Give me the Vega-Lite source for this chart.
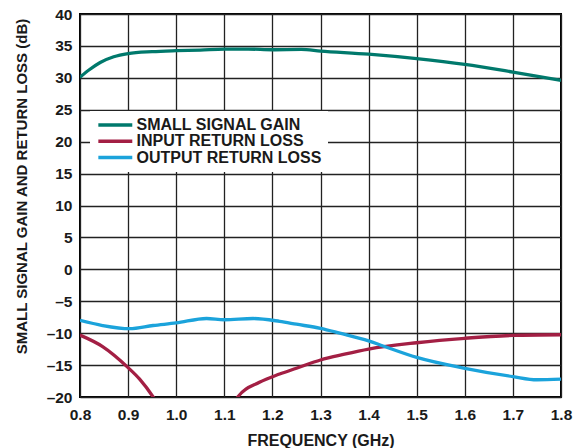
{
  "$schema": "https://vega.github.io/schema/vega-lite/v6.json",
  "width": 481,
  "height": 383,
  "autosize": {"type": "none"},
  "padding": {"left": 80, "top": 14, "right": 12, "bottom": 51},
  "background": "white",
  "config": {
    "view": {"stroke": "#000000", "strokeWidth": 2},
    "font": "Liberation Sans"
  },
  "data": {
    "values": [
      {"f": 0.8, "v": 30.1, "s": "SMALL SIGNAL GAIN"},
      {"f": 0.82, "v": 31.3, "s": "SMALL SIGNAL GAIN"},
      {"f": 0.842, "v": 32.4, "s": "SMALL SIGNAL GAIN"},
      {"f": 0.87, "v": 33.3, "s": "SMALL SIGNAL GAIN"},
      {"f": 0.9, "v": 33.8, "s": "SMALL SIGNAL GAIN"},
      {"f": 0.95, "v": 34.1, "s": "SMALL SIGNAL GAIN"},
      {"f": 1.0, "v": 34.25, "s": "SMALL SIGNAL GAIN"},
      {"f": 1.05, "v": 34.35, "s": "SMALL SIGNAL GAIN"},
      {"f": 1.1, "v": 34.5, "s": "SMALL SIGNAL GAIN"},
      {"f": 1.15, "v": 34.5, "s": "SMALL SIGNAL GAIN"},
      {"f": 1.2, "v": 34.4, "s": "SMALL SIGNAL GAIN"},
      {"f": 1.26, "v": 34.45, "s": "SMALL SIGNAL GAIN"},
      {"f": 1.3, "v": 34.2, "s": "SMALL SIGNAL GAIN"},
      {"f": 1.4, "v": 33.7, "s": "SMALL SIGNAL GAIN"},
      {"f": 1.5, "v": 33.0, "s": "SMALL SIGNAL GAIN"},
      {"f": 1.6, "v": 32.1, "s": "SMALL SIGNAL GAIN"},
      {"f": 1.7, "v": 30.9, "s": "SMALL SIGNAL GAIN"},
      {"f": 1.8, "v": 29.6, "s": "SMALL SIGNAL GAIN"},

      {"f": 0.8, "v": -10.3, "s": "INPUT RETURN LOSS"},
      {"f": 0.847, "v": -12.1, "s": "INPUT RETURN LOSS"},
      {"f": 0.9, "v": -15.4, "s": "INPUT RETURN LOSS"},
      {"f": 0.924, "v": -17.2, "s": "INPUT RETURN LOSS"},
      {"f": 0.952, "v": -20.0, "s": "INPUT RETURN LOSS"},
      {"f": 0.975, "v": -23.0, "s": "INPUT RETURN LOSS"},
      {"f": 1.105, "v": -23.0, "s": "INPUT RETURN LOSS"},
      {"f": 1.128, "v": -20.0, "s": "INPUT RETURN LOSS"},
      {"f": 1.173, "v": -17.7, "s": "INPUT RETURN LOSS"},
      {"f": 1.215, "v": -16.4, "s": "INPUT RETURN LOSS"},
      {"f": 1.25, "v": -15.5, "s": "INPUT RETURN LOSS"},
      {"f": 1.3, "v": -14.2, "s": "INPUT RETURN LOSS"},
      {"f": 1.35, "v": -13.3, "s": "INPUT RETURN LOSS"},
      {"f": 1.4, "v": -12.5, "s": "INPUT RETURN LOSS"},
      {"f": 1.5, "v": -11.5, "s": "INPUT RETURN LOSS"},
      {"f": 1.6, "v": -10.8, "s": "INPUT RETURN LOSS"},
      {"f": 1.7, "v": -10.35, "s": "INPUT RETURN LOSS"},
      {"f": 1.8, "v": -10.25, "s": "INPUT RETURN LOSS"},

      {"f": 0.8, "v": -8.0, "s": "OUTPUT RETURN LOSS"},
      {"f": 0.847, "v": -8.8, "s": "OUTPUT RETURN LOSS"},
      {"f": 0.903, "v": -9.3, "s": "OUTPUT RETURN LOSS"},
      {"f": 0.952, "v": -8.8, "s": "OUTPUT RETURN LOSS"},
      {"f": 1.0, "v": -8.4, "s": "OUTPUT RETURN LOSS"},
      {"f": 1.063, "v": -7.7, "s": "OUTPUT RETURN LOSS"},
      {"f": 1.1, "v": -7.9, "s": "OUTPUT RETURN LOSS"},
      {"f": 1.16, "v": -7.7, "s": "OUTPUT RETURN LOSS"},
      {"f": 1.215, "v": -8.15, "s": "OUTPUT RETURN LOSS"},
      {"f": 1.25, "v": -8.6, "s": "OUTPUT RETURN LOSS"},
      {"f": 1.3, "v": -9.25, "s": "OUTPUT RETURN LOSS"},
      {"f": 1.34, "v": -10.0, "s": "OUTPUT RETURN LOSS"},
      {"f": 1.4, "v": -11.2, "s": "OUTPUT RETURN LOSS"},
      {"f": 1.43, "v": -12.0, "s": "OUTPUT RETURN LOSS"},
      {"f": 1.5, "v": -13.8, "s": "OUTPUT RETURN LOSS"},
      {"f": 1.6, "v": -15.5, "s": "OUTPUT RETURN LOSS"},
      {"f": 1.7, "v": -16.8, "s": "OUTPUT RETURN LOSS"},
      {"f": 1.75, "v": -17.3, "s": "OUTPUT RETURN LOSS"},
      {"f": 1.8, "v": -17.2, "s": "OUTPUT RETURN LOSS"}
    ]
  },
  "mark": {"type": "line", "clip": true, "strokeWidth": 3.3, "interpolate": "monotone"},
  "encoding": {
    "x": {
      "field": "f",
      "type": "quantitative",
      "scale": {"domain": [0.8, 1.8], "nice": false, "zero": false},
      "axis": {
        "values": [0.8, 0.9, 1.0, 1.1, 1.2, 1.3, 1.4, 1.5, 1.6, 1.7, 1.8],
        "format": ".1f",
        "title": "FREQUENCY (GHz)",
        "ticks": false,
        "domain": false,
        "grid": true,
        "gridColor": "#222222",
        "gridWidth": 1.3,
        "gridOpacity": 1,
        "labelFont": "Liberation Sans",
        "labelFontWeight": "bold",
        "labelFontSize": 15.5,
        "labelColor": "#1a1a1a",
        "labelPadding": 10,
        "labelFlush": false,
        "titleFont": "Liberation Sans",
        "titleFontWeight": "bold",
        "titleFontSize": 16,
        "titleColor": "#1a1a1a",
        "titleBaseline": "alphabetic",
        "titleY": 48
      }
    },
    "y": {
      "field": "v",
      "type": "quantitative",
      "scale": {"domain": [-20, 40], "nice": false, "zero": false},
      "axis": {
        "values": [-20, -15, -10, -5, 0, 5, 10, 15, 20, 25, 30, 35, 40],
        "labelExpr": "datum.value < 0 ? '–' + abs(datum.value) : '' + datum.value",
        "title": "SMALL SIGNAL GAIN AND RETURN LOSS (dB)",
        "ticks": false,
        "domain": false,
        "grid": true,
        "gridColor": "#222222",
        "gridWidth": 1.3,
        "gridOpacity": 1,
        "labelFont": "Liberation Sans",
        "labelFontWeight": "bold",
        "labelFontSize": 15.5,
        "labelColor": "#1a1a1a",
        "labelPadding": 8,
        "labelFlush": false,
        "titleFont": "Liberation Sans",
        "titleFontWeight": "bold",
        "titleFontSize": 15,
        "titleColor": "#1a1a1a",
        "titleAngle": 270,
        "titleBaseline": "alphabetic",
        "titleX": -54,
        "titleY": 172
      }
    },
    "color": {
      "field": "s",
      "type": "nominal",
      "scale": {
        "domain": ["SMALL SIGNAL GAIN", "INPUT RETURN LOSS", "OUTPUT RETURN LOSS"],
        "range": ["#00796C", "#A31F44", "#1BA3DB"]
      },
      "legend": {
        "title": null,
        "orient": "none",
        "legendX": 10,
        "legendY": 97,
        "fillColor": "white",
        "strokeColor": null,
        "padding": 6,
        "symbolType": "M-1,0H5",
        "symbolSize": 128,
        "symbolStrokeWidth": 3.5,
        "labelOffset": 24.5,
        "labelLimit": 400,
        "labelFont": "Liberation Sans",
        "labelFontWeight": "bold",
        "labelFontSize": 16,
        "labelColor": "#1a1a1a",
        "rowPadding": 0.3
      }
    }
  }
}
